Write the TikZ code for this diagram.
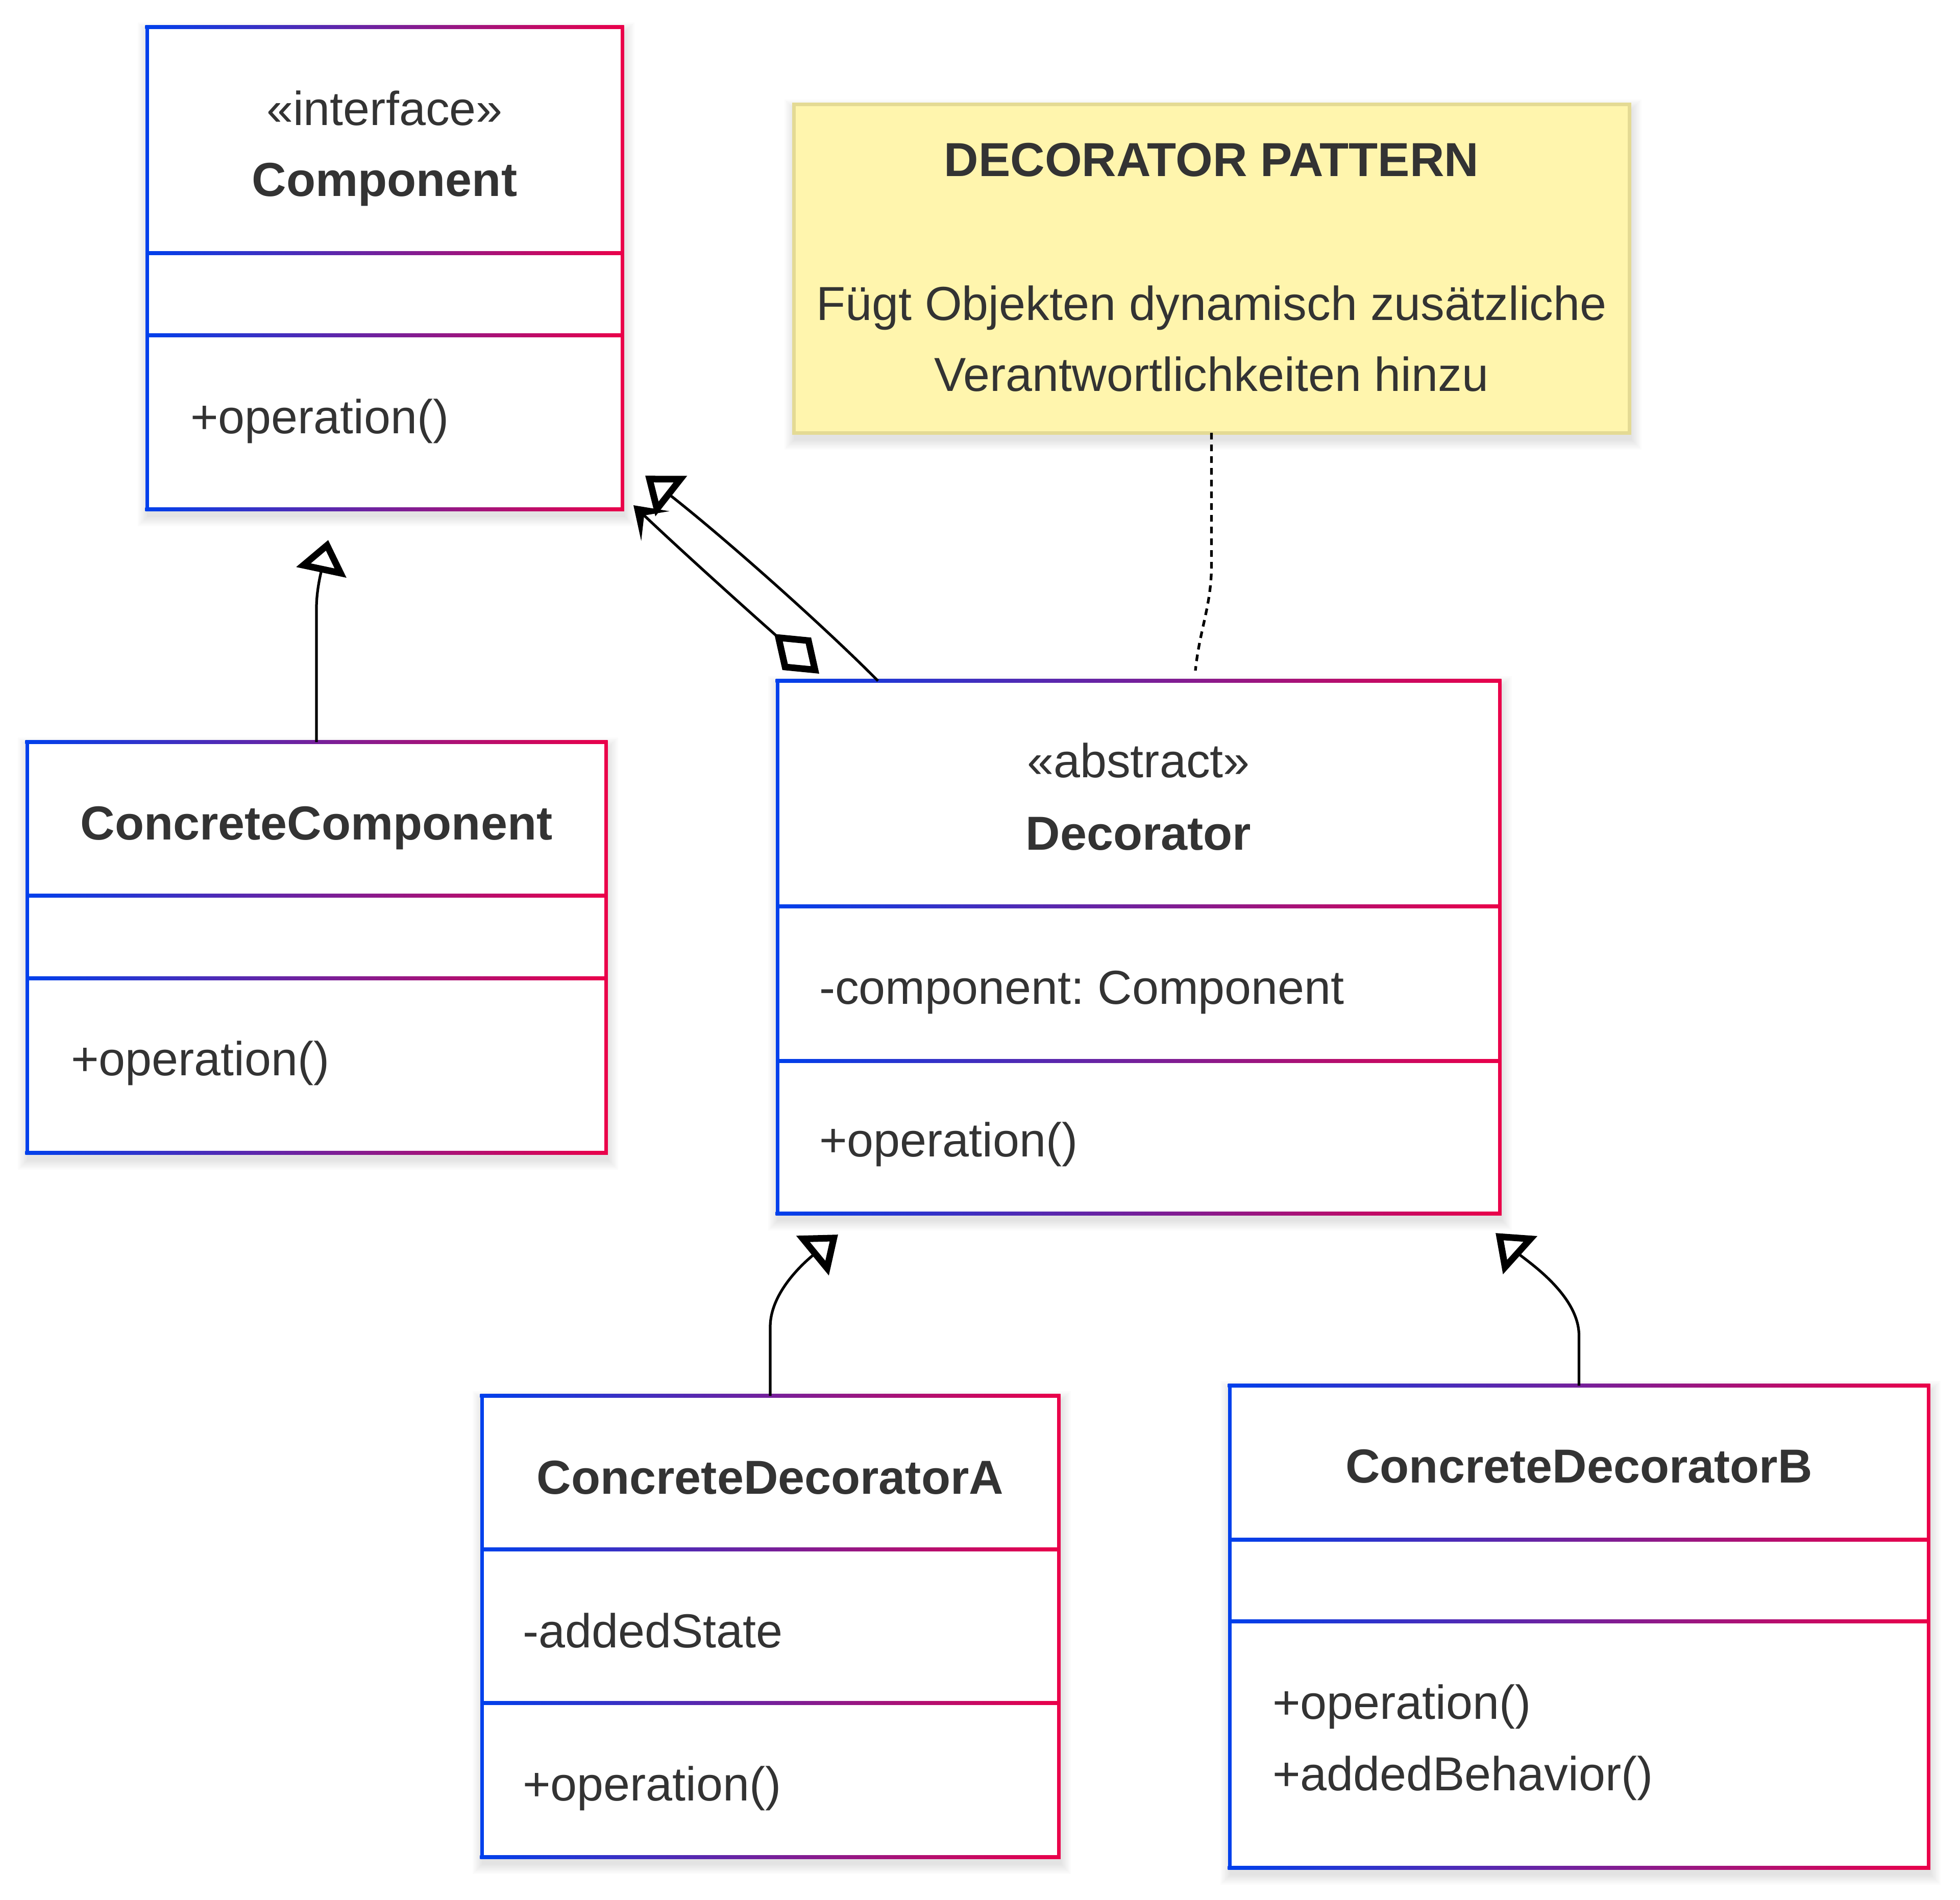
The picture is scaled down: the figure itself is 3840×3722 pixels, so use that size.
\documentclass[tikz,border=0pt]{standalone}
\usepackage{fontspec}
\setmainfont{Liberation Sans}
\frenchspacing
\usetikzlibrary{arrows.meta,fit,calc}
\definecolor{cb}{RGB}{0,64,236}
\definecolor{cr}{RGB}{234,0,74}
\definecolor{txt}{RGB}{51,51,51}
\definecolor{notefill}{RGB}{255,245,173}
\definecolor{noteline}{RGB}{228,218,148}
\newcommand\softshadow[4]{%
  \foreach \k in {1,...,7}{\fill[black,opacity=0.016] (#1+3-\k*3,#2+12-\k*3) rectangle (#3+3+\k*3,#4+12+\k*3);}}
\newcommand\umlbox[7]{%
  \softshadow{#2}{#3}{#4}{#5}
  \node[fit={(#2,#3)(#4,#5)},inner sep=0pt,fill=white] (#1) {};
  \shade[left color=cb,right color=cr] (#2-3.5,#3-3.5) rectangle (#4+3.5,#3+3.5);
  \shade[left color=cb,right color=cr] (#2-3.5,#5-3.5) rectangle (#4+3.5,#5+3.5);
  \shade[left color=cb,right color=cr] (#2,#6-3.5) rectangle (#4,#6+3.5);
  \shade[left color=cb,right color=cr] (#2,#7-3.5) rectangle (#4,#7+3.5);
  \fill[cb] (#2-3.5,#3-3.5) rectangle (#2+3.5,#5+3.5);
  \fill[cr] (#4-3.5,#3-3.5) rectangle (#4+3.5,#5+3.5);
}
\begin{document}
\begin{tikzpicture}[x=0.2pt,y=-0.2pt,
  every node/.style={inner sep=0pt,outer sep=0pt,text=txt,font=\fontsize{18.7pt}{22pt}\selectfont},
  ttl/.style={font=\fontsize{18.7pt}{22pt}\selectfont\bfseries},
  inh/.style={line width=1.05pt,-{Triangle[fill=white,length=13pt,width=19.5pt,line width=2.6pt]}},
  agg/.style={line width=1.05pt,{Diamond[fill=white,length=23.5pt,width=17pt,line width=2.6pt]}-{Stealth[length=11.8pt,width=16pt,inset=6pt]}},
  notelink/.style={line width=1.05pt,dash pattern=on 2.6pt off 2pt}]
\fill[white] (0,0) rectangle (3840,3722);
\useasboundingbox (0,0) rectangle (3840,3722);

% note
\softshadow{1555}{204}{3192}{848}
\node[fit={(1555,204)(3192,848)},fill=notefill,draw=noteline,line width=1.4pt] (note) {};
\node[anchor=base,ttl] (note-t) at (2373.5,345) {DECORATOR PATTERN};
\node[anchor=base] (note-l1) at (2373.5,627) {Fügt Objekten dynamisch zusätzliche};
\node[anchor=base] (note-l2) at (2373.5,766) {Verantwortlichkeiten hinzu};

% Component
\umlbox{comp}{288}{53}{1219}{998}{496}{657}
\node[anchor=base] (comp-st) at (753.5,245) {«interface»};
\node[anchor=base,ttl] (comp-t) at (753.5,384) {Component};
\node[anchor=base west] (comp-op) at (373,849) {+operation()};

% ConcreteComponent
\umlbox{cc}{53}{1454}{1187}{2259}{1755}{1917}
\node[anchor=base,ttl] (cc-t) at (620,1645) {ConcreteComponent};
\node[anchor=base west] (cc-op) at (139,2107) {+operation()};

% Decorator
\umlbox{dec}{1523}{1334}{2938}{2378}{1776}{2079}
\node[anchor=base] (dec-st) at (2230.5,1523) {«abstract»};
\node[anchor=base,ttl] (dec-t) at (2230.5,1665) {Decorator};
\node[anchor=base west] (dec-at) at (1605,1967) {-component: Component};
\node[anchor=base west] (dec-op) at (1605,2266) {+operation()};

% ConcreteDecoratorA
\umlbox{cda}{944}{2735}{2074}{3639}{3036}{3337}
\node[anchor=base,ttl] (cda-t) at (1509,2927) {ConcreteDecoratorA};
\node[anchor=base west] (cda-at) at (1024,3228) {-addedState};
\node[anchor=base west] (cda-op) at (1024,3528) {+operation()};

% ConcreteDecoratorB
\umlbox{cdb}{2409}{2715}{3778}{3660}{3017}{3177}
\node[anchor=base,ttl] (cdb-t) at (3093.5,2905) {ConcreteDecoratorB};
\node[anchor=base west] (cdb-op) at (2493,3368) {+operation()};
\node[anchor=base west] (cdb-op2) at (2493,3508) {+addedBehavior()};

% connector ends
\coordinate (t1) at (643,1058);
\coordinate (t2) at (1264,932);
\coordinate (t3) at (1241,990);
\coordinate (t4) at (2342,1314);
\coordinate (t5) at (1642,2419);
\coordinate (t6) at (2930,2416);

% connectors
\draw[inh] (cc.north) -- ++(0,-263) .. controls +(0,-41) and +(-10,47) .. (t1);
\draw[inh] ($(dec.north west)+(197,0)$) .. controls +(-105,-106) and +(158,124) .. (t2);
\draw[agg] ($(dec.north west)+(82,-14)$) .. controls +(-130,-115) and +(100,95) .. (t3);
\draw[notelink] (note.south) -- ++(0,259) .. controls +(0,80) and +(8,-80) .. (t4);
\draw[inh] (cda.north) -- ++(0,-135) .. controls +(0,-70) and +(-62,51) .. (t5);
\draw[inh] (cdb.north) -- ++(0,-98) .. controls +(0,-80) and +(60,54) .. (t6);
\end{tikzpicture}
\end{document}
